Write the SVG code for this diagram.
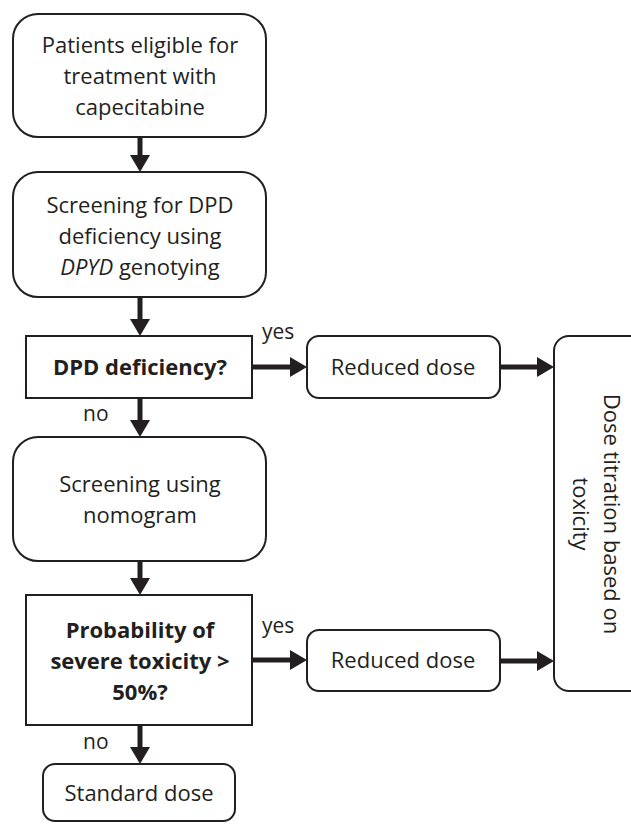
<svg xmlns="http://www.w3.org/2000/svg" width="631" height="824" viewBox="0 0 631 824">
<defs>
<marker id="ah" markerUnits="userSpaceOnUse" markerWidth="18" markerHeight="20" refX="2" refY="10" orient="auto">
<path d="M0,0 L17,10 L0,20 Z" fill="#231f20"/>
</marker>
<style>
.box{fill:#fff;stroke:#231f20;stroke-width:2}
.t{font-family:"Open Sans","Liberation Sans",sans-serif;font-size:22px;fill:#231f20;text-anchor:middle}
.b{font-weight:bold}
.lbl{font-family:"Open Sans","Liberation Sans",sans-serif;font-size:21px;fill:#231f20}
.c{stroke:#231f20;stroke-width:5;fill:none;marker-end:url(#ah)}
</style>
</defs>
<rect width="631" height="824" fill="#fff"/>
<g id="connectors">
<line class="c" x1="140" y1="137" x2="140" y2="157"/>
<line class="c" x1="140" y1="297" x2="140" y2="321"/>
<line class="c" x1="140" y1="398" x2="140" y2="422"/>
<line class="c" x1="140" y1="561" x2="140" y2="580"/>
<line class="c" x1="140" y1="725" x2="140" y2="749"/>
<line class="c" x1="252" y1="367" x2="292" y2="367"/>
<line class="c" x1="500" y1="367" x2="539" y2="367"/>
<line class="c" x1="252" y1="660" x2="292" y2="660"/>
<line class="c" x1="500" y1="661" x2="539" y2="661"/>
<text class="lbl" x="262" y="339">yes</text>
<text class="lbl" x="83" y="421">no</text>
<text class="lbl" x="262" y="633">yes</text>
<text class="lbl" x="83" y="749">no</text>
</g>
<g id="patients">
<rect class="box" x="13" y="14" width="253" height="123" rx="25"/>
<text class="t"><tspan x="140" y="53">Patients eligible for</tspan><tspan x="140" y="84">treatment with</tspan><tspan x="140" y="115">capecitabine</tspan></text>
</g>
<g id="screening-dpd">
<rect class="box" x="13" y="172" width="253" height="125" rx="25"/>
<text class="t"><tspan x="140" y="213">Screening for DPD</tspan><tspan x="140" y="244">deficiency using</tspan><tspan x="140" y="275"><tspan font-style="italic">DPYD</tspan> genotying</tspan></text>
</g>
<g id="dpd-deficiency">
<rect class="box" x="26" y="336" width="226" height="62"/>
<text class="t b" x="140" y="375">DPD deficiency?</text>
</g>
<g id="reduced-dose-1">
<rect class="box" x="307" y="336" width="193" height="62" rx="12"/>
<text class="t" x="403" y="375">Reduced dose</text>
</g>
<g id="dose-titration">
<rect class="box" x="554" y="336" width="100" height="355" rx="15"/>
<text class="t" transform="translate(604,514) rotate(90)"><tspan x="0" y="0">Dose titration based on</tspan><tspan x="0" y="31">toxicity</tspan></text>
</g>
<g id="screening-nomogram">
<rect class="box" x="13" y="437" width="253" height="124" rx="25"/>
<text class="t"><tspan x="140" y="492">Screening using</tspan><tspan x="140" y="523">nomogram</tspan></text>
</g>
<g id="probability">
<rect class="box" x="26" y="595" width="226" height="130"/>
<text class="t b"><tspan x="140" y="638">Probability of</tspan><tspan x="140" y="669">severe toxicity &gt;</tspan><tspan x="140" y="700">50%?</tspan></text>
</g>
<g id="reduced-dose-2">
<rect class="box" x="307" y="630" width="193" height="61" rx="12"/>
<text class="t" x="403" y="668">Reduced dose</text>
</g>
<g id="standard-dose">
<rect class="box" x="43" y="764" width="192" height="57" rx="12"/>
<text class="t" x="139" y="801">Standard dose</text>
</g>
</svg>
